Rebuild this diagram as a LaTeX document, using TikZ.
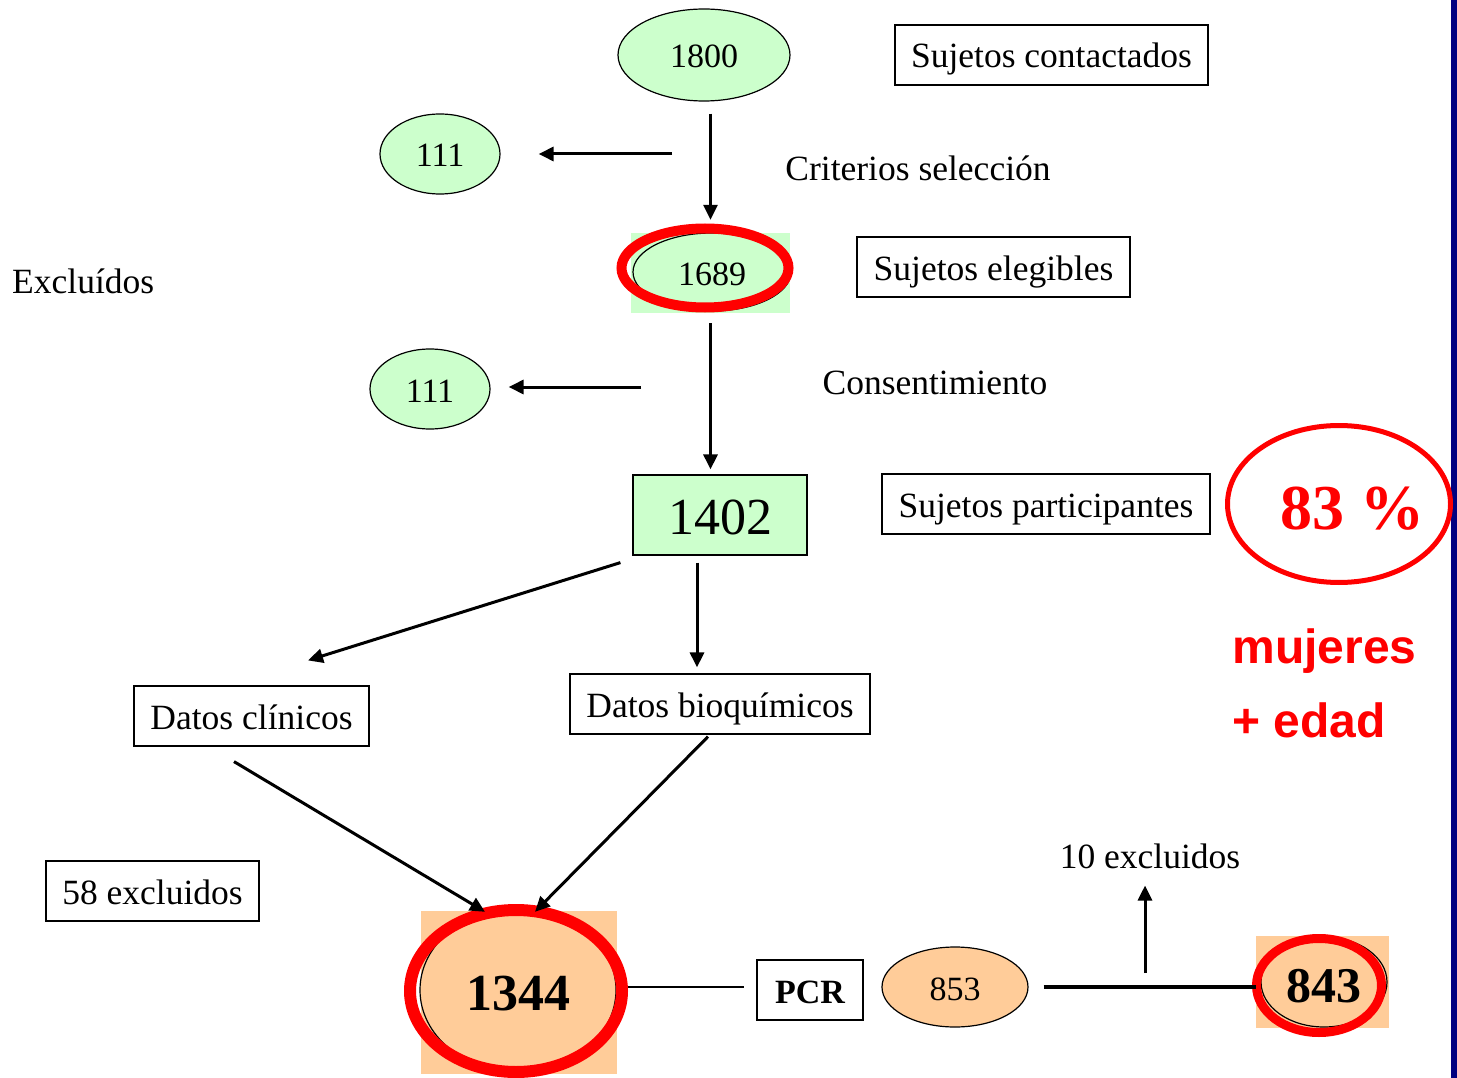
\documentclass[tikz,border=0pt]{standalone}
\usepackage{fontspec}
\setmainfont{Liberation Serif}
\setsansfont{Liberation Sans}
\usetikzlibrary{arrows.meta,shapes.geometric}
\definecolor{palegreen}{HTML}{CCFFCC}
\definecolor{peach}{HTML}{FFCC99}
\definecolor{alertred}{HTML}{FF0000}
\definecolor{navybar}{HTML}{000080}
\newcommand{\fsz}[1]{\fontsize{#1}{#1}\selectfont}

\begin{document}
\begin{tikzpicture}[
  x=1pt, y=-1pt,
  every node/.style={font=\fsz{35.5}, text height=30pt, text depth=4pt},
  num/.style={font=\fsz{34}},
  oval/.style={draw, ellipse, line width=1.2pt, inner sep=0pt, num},
  box/.style={draw, line width=1.2pt, minimum height=60pt, inner sep=0pt},
  sqbg/.style={rectangle, inner sep=0pt},
  ring/.style={draw=alertred, ellipse, inner sep=0pt},
  bignum/.style={font=\fsz{52}\bfseries, text height=44pt, text depth=3pt},
  redsans/.style={anchor=west, text=alertred, font=\sffamily\bfseries\fsz{48}},
  arr/.style={-{Triangle[length=15pt,width=14pt]}, line width=3pt}
]
  \useasboundingbox (0,0) rectangle (1457,1078);
  \fill[navybar] (1451,0) rectangle (1457,1078);

  % Top: contacted subjects
  \node[oval, fill=palegreen, minimum width=172pt, minimum height=92pt] (c1800) at (704,55) {1800};
  \node[box, minimum width=313pt] (contact) at (1051.5,55) {Sujetos contactados};
  \node[oval, fill=palegreen, minimum width=120pt, minimum height=80pt] (c111a) at (440,154) {111};
  \node (crit) at (918,168) {Criterios selección};
  \node[anchor=west, inner xsep=0pt] (excl) at (12,281) {Excluídos};

  % Eligible subjects
  \node[sqbg, fill=palegreen, minimum width=159pt, minimum height=80pt] (sq1689) at (710.5,273) {};
  \node[oval, minimum width=158pt, minimum height=78pt] (c1689) at (712,272) {1689};
  \node[ring, line width=10pt, minimum width=167pt, minimum height=79pt] (r1689) at (705,268) {};
  \node[box, minimum width=273pt] (elig) at (993.5,267) {Sujetos elegibles};
  \node (cons) at (935,381) {Consentimiento};
  \node[oval, fill=palegreen, minimum width=120pt, minimum height=80pt] (c111b) at (430,389) {111};

  % Participants
  \node[box, fill=palegreen, minimum width=174pt, minimum height=80pt, font=\fsz{52}, text height=40pt, text depth=2pt] (b1402) at (720,515) {1402};
  \node[box, minimum width=328pt] (part) at (1046,504) {Sujetos participantes};
  \node[ring, line width=5pt, minimum width=223pt, minimum height=157pt] (r83) at (1339,504) {};
  \node[text=alertred, font=\fsz{64}\bfseries, text height=48pt, text depth=2pt] (pct) at (1352,506) {83 \%};
  \node[redsans] (muj) at (1229,650) {mujeres};
  \node[redsans] (edad) at (1229,724) {+ edad};

  % Data
  \node[box, minimum width=235pt] (clin) at (251.5,716) {Datos clínicos};
  \node[box, minimum width=300pt] (bio) at (720,704) {Datos bioquímicos};
  \node[box, minimum width=213pt] (ex58) at (152.5,891) {58 excluidos};

  % Bottom row
  \node[sqbg, fill=peach, minimum width=196pt, minimum height=163pt] (sq1344) at (519,992.5) {};
  \node[oval, fill=peach, minimum width=196pt, minimum height=164pt, bignum] (c1344) at (518,990) {1344};
  \node[ring, line width=12pt, minimum width=212pt, minimum height=162pt] (r1344) at (516,991) {};
  \node[box, minimum width=106pt, font=\fsz{34}\bfseries] (pcr) at (810,990) {PCR};
  \node[oval, fill=peach, minimum width=146pt, minimum height=80pt] (c853) at (955,987) {853};
  \node[sqbg, fill=peach, minimum width=133pt, minimum height=92pt] (sq843) at (1322.5,982) {};
  \node[oval, fill=peach, minimum width=126pt, minimum height=90pt, bignum, font=\fsz{50}\bfseries] (c843) at (1324,982) {843};
  \node[ring, line width=9pt, minimum width=125pt, minimum height=94pt] (r843) at (1319,985.5) {};
  \node (ex10) at (1150,855) {10 excluidos};

  % Arrows
  \coordinate (j1) at (672,154);
  \coordinate (j2) at (641,387);
  \coordinate (j3) at (1145,973);
  \draw[arr, shorten <=12pt, shorten >=13pt] (c1800.south -| sq1689) -- (sq1689.north);
  \draw[arr, shorten >=38pt] (j1) -- (j1 -| c111a.east);
  \draw[arr, shorten <=10pt, shorten >=5pt] (sq1689.south) -- (sq1689.south |- b1402.north);
  \draw[arr, shorten >=18pt] (j2) -- (j2 -| c111b.east);
  \draw[arr] ([shift={(-12,7)}]b1402.south west) -- ([shift={(56.5,-25)}]clin.north);
  \draw[arr, shorten <=7pt, shorten >=6pt] ([xshift=-23pt]b1402.south) -- ([xshift=-23pt]bio.north);
  \draw[arr] ([shift={(-17.5,15)}]clin.south) -- ([shift={(-34,1)}]sq1344.north);
  \draw[arr] ([shift={(-12,2)}]bio.south) -- ([shift={(16,1)}]sq1344.north);
  \draw[line width=1.2pt, shorten >=12pt] (r1344.east |- c853) -- (pcr.west |- c853);
  \draw[line width=3.2pt, shorten <=15pt] (c853.east) -- (c853.east -| sq843.west);
  \draw[arr] (j3) -- ([yshift=-10pt]j3 |- ex10.south);
\end{tikzpicture}
\end{document}
